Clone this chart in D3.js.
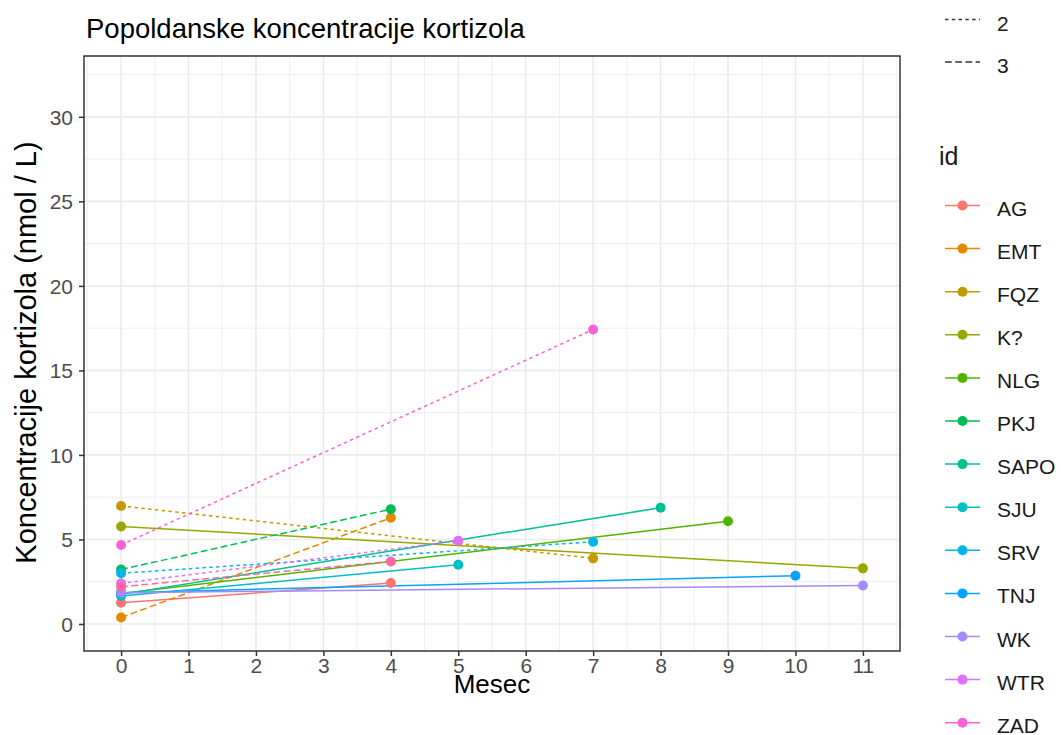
<!DOCTYPE html>
<html lang="en">
<head>
    <meta charset="UTF-8">
    <title>Popoldanske koncentracije kortizola</title>
    <script src="https://cdn.jsdelivr.net/npm/d3@7"></script>
    <style>
        body { margin: 0; background: #fff; }
        svg { display: block; font-family: "Liberation Sans", Arial, sans-serif; }
        .grid line { stroke: #ebebeb; }
        .tick-label { fill: #4d4d4d; font-size: 21px; }
        .legend text { fill: #1a1a1a; }
    </style>
</head>
<body>
    <svg width="1061" height="735"></svg>

    <script>
        // data: each id has a first and a last visit
        const ids = ["AG", "EMT", "FQZ", "K?", "NLG", "PKJ", "SAPO", "SJU", "SRV", "TNJ", "WK", "WTR", "ZAD", "ZVR"];
        const lineTypes = ["1", "3", "2", "1", "1", "3", "1", "1", "2", "1", "1", "2", "2", "3"];
        const firstMonth = [0, 0, 0, 0, 0, 0, 0, 0, 0, 0, 0, 0, 0, 0];
        const lastMonth = [4, 4, 7, 11, 9, 4, 8, 5, 7, 10, 11, 5, 7, 4];
        const firstValue = [1.25, 0.38, 6.98, 5.77, 1.8, 3.22, 1.75, 1.65, 3.0, 1.85, 1.85, 2.4, 4.67, 2.2];
        const lastValue = [2.42, 6.28, 3.88, 3.29, 6.08, 6.79, 6.88, 3.5, 4.86, 2.85, 2.28, 4.92, 17.42, 3.7];
        const monthTicks = [0, 1, 2, 3, 4, 5, 6, 7, 8, 9, 10, 11];
        const valueTicks = [0, 5, 10, 15, 20, 25, 30];
        const typeLevels = ["1", "2", "3"];

        const palette = ["#F8766D", "#E38900", "#C49A00", "#99A800", "#53B400", "#00BC56", "#00C094",
                         "#00BFC4", "#00B6EB", "#06A4FF", "#A58AFF", "#DF70F8", "#FB61D7", "#FF66A8"];
        const dashes = { "1": null, "2": "3.4,3.4", "3": "6.8,3.4" };

        const series = ids.map((id, i) => ({
            id: id,
            type: lineTypes[i],
            values: [
                { m: firstMonth[i], v: firstValue[i] },
                { m: lastMonth[i], v: lastValue[i] }
            ]
        }));

        const svg = d3.select("svg");
        const panel = { left: 84, right: 900, top: 56, bottom: 651 };

        const x = d3.scaleLinear().domain([-0.55, 11.55]).range([panel.left, panel.right]);
        const y = d3.scaleLinear().domain([-1.6, 33.6]).range([panel.bottom, panel.top]);
        const color = d3.scaleOrdinal().domain(ids).range(palette);

        // grid, minor first
        const grid = svg.append("g").attr("class", "grid");
        const xMinor = d3.range(-0.5, 11.6, 1);
        const yMinor = d3.range(2.5, 33, 5);

        grid.selectAll(".xminor").data(xMinor).enter().append("line")
            .attr("x1", d => x(d)).attr("x2", d => x(d))
            .attr("y1", panel.top).attr("y2", panel.bottom)
            .attr("stroke-width", 0.8);
        grid.selectAll(".yminor").data(yMinor).enter().append("line")
            .attr("x1", panel.left).attr("x2", panel.right)
            .attr("y1", d => y(d)).attr("y2", d => y(d))
            .attr("stroke-width", 0.8);
        grid.selectAll(".xmajor").data(monthTicks).enter().append("line")
            .attr("x1", d => x(d)).attr("x2", d => x(d))
            .attr("y1", panel.top).attr("y2", panel.bottom)
            .attr("stroke-width", 1.6);
        grid.selectAll(".ymajor").data(valueTicks).enter().append("line")
            .attr("x1", panel.left).attr("x2", panel.right)
            .attr("y1", d => y(d)).attr("y2", d => y(d))
            .attr("stroke-width", 1.6);

        // lines and points
        const line = d3.line().x(d => x(d.m)).y(d => y(d.v));

        svg.append("g").selectAll("path")
            .data(series)
            .enter().append("path")
            .attr("d", d => line(d.values))
            .attr("fill", "none")
            .attr("stroke", d => color(d.id))
            .attr("stroke-width", 1.5)
            .attr("stroke-dasharray", d => dashes[d.type]);

        svg.append("g").selectAll("g")
            .data(series)
            .enter().append("g")
            .selectAll("circle")
            .data(d => d.values.map(p => ({ id: d.id, m: p.m, v: p.v })))
            .enter().append("circle")
            .attr("cx", d => x(d.m))
            .attr("cy", d => y(d.v))
            .attr("r", 5)
            .attr("fill", d => color(d.id));

        // panel border
        svg.append("rect")
            .attr("x", panel.left).attr("y", panel.top)
            .attr("width", panel.right - panel.left)
            .attr("height", panel.bottom - panel.top)
            .attr("fill", "none")
            .attr("stroke", "#333")
            .attr("stroke-width", 1.5);

        // axes
        const xAxis = svg.append("g")
            .attr("transform", `translate(0,${panel.bottom})`)
            .call(d3.axisBottom(x).tickValues(monthTicks).tickSize(5).tickPadding(2).tickFormat(d3.format("d")));
        const yAxis = svg.append("g")
            .attr("transform", `translate(${panel.left},0)`)
            .call(d3.axisLeft(y).tickValues(valueTicks).tickSize(5).tickPadding(6).tickFormat(d3.format("d")));

        [xAxis, yAxis].forEach(a => {
            a.select(".domain").remove();
            a.selectAll(".tick line").attr("stroke", "#333").attr("stroke-width", 1.5);
            a.selectAll(".tick text").attr("class", "tick-label").attr("font-family", null).attr("font-size", null);
        });
        yAxis.selectAll(".tick text").attr("dy", "0.35em");

        // titles
        svg.append("text")
            .attr("x", 86).attr("y", 38)
            .attr("font-size", 27.5)
            .text("Popoldanske koncentracije kortizola");

        svg.append("text")
            .attr("x", (panel.left + panel.right) / 2).attr("y", 693)
            .attr("text-anchor", "middle")
            .attr("font-size", 26)
            .text("Mesec");

        svg.append("text")
            .attr("transform", `translate(36,${(panel.top + panel.bottom) / 2 - 1}) rotate(-90)`)
            .attr("text-anchor", "middle")
            .attr("font-size", 29)
            .text("Koncentracije kortizola (nmol / L)");

        // linetype legend (first entry sits above the visible area)
        const typeStep = 42.4;
        const typeLegend = svg.append("g").attr("class", "legend");
        const typeItems = typeLegend.selectAll("g")
            .data(typeLevels)
            .enter().append("g")
            .attr("transform", (d, i) => `translate(0,${19.5 + (i - 1) * typeStep})`);
        typeItems.append("line")
            .attr("x1", 945).attr("x2", 980)
            .attr("stroke", "#333")
            .attr("stroke-width", 1.5)
            .attr("stroke-dasharray", d => dashes[d]);
        typeItems.append("text")
            .attr("x", 997).attr("y", 11)
            .attr("font-size", 21)
            .text(d => d);

        // id legend
        const step = 43.1;
        const idLegend = svg.append("g").attr("class", "legend");
        idLegend.append("text")
            .attr("x", 939).attr("y", 165)
            .attr("font-size", 25)
            .text("id");

        const idItems = idLegend.selectAll(".item")
            .data(ids)
            .enter().append("g")
            .attr("class", "item")
            .attr("transform", (d, i) => `translate(0,${205.5 + i * step})`);
        idItems.append("line")
            .attr("x1", 945).attr("x2", 980)
            .attr("stroke", d => color(d))
            .attr("stroke-width", 1.5);
        idItems.append("circle")
            .attr("cx", 962.5).attr("cy", 0)
            .attr("r", 5)
            .attr("fill", d => color(d));
        idItems.append("text")
            .attr("x", 997).attr("y", 10)
            .attr("font-size", 21)
            .text(d => d);
    </script>
</body>
</html>
